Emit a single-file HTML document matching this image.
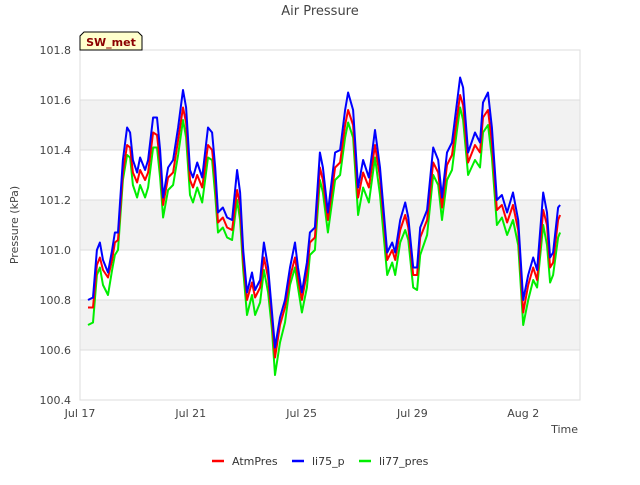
<!DOCTYPE html>
<html><head><meta charset="utf-8">
<style>
body{margin:0;background:#fff;font-family:"Liberation Sans","DejaVu Sans",sans-serif;}
svg text{font-family:"DejaVu Sans","Liberation Sans",sans-serif;}
</style></head>
<body>
<svg id="chart" width="640" height="480" xmlns="http://www.w3.org/2000/svg">
<rect width="640" height="480" fill="#fff"/>
<text x="320" y="15" text-anchor="middle" font-size="13" fill="#444">Air Pressure</text>
<g id="bands"></g>
<g id="grid"></g>
<rect x="80" y="50" width="500" height="350" fill="none" stroke="#ddd"/>
<g id="yticks"></g>
<g id="xticks"></g>
<text transform="translate(18,225) rotate(-90)" text-anchor="middle" font-size="11" fill="#444">Pressure (kPa)</text>
<text x="578" y="433" text-anchor="end" font-size="11" fill="#444">Time</text>
<g id="series"></g>
<g>
<path d="M80,50 L80,36 L84,32 L138,32 L142,36 L142,50 Z" fill="#ffffcc" stroke="#000" stroke-width="1"/>
<text x="111" y="46" text-anchor="middle" font-size="11" font-weight="bold" fill="#8b0000">SW_met</text>
</g>
<g>
<g><line x1="212" y1="461" x2="224" y2="461" stroke="#f00" stroke-width="2.5"/><text x="232" y="465" font-size="11" fill="#333">AtmPres</text></g>
<g><line x1="292" y1="461" x2="304" y2="461" stroke="#00f" stroke-width="2.5"/><text x="312" y="465" font-size="11" fill="#333">li75_p</text></g>
<g><line x1="359" y1="461" x2="371" y2="461" stroke="#0e0" stroke-width="2.5"/><text x="379" y="465" font-size="11" fill="#333">li77_pres</text></g>
</g>
</svg>
<script>
const days=[0.29,0.47,0.61,0.72,0.83,1.01,1.16,1.26,1.37,1.55,1.70,1.81,1.91,2.06,2.17,2.35,2.46,2.64,2.78,2.89,3.00,3.18,3.36,3.54,3.72,3.83,3.97,4.08,4.23,4.41,4.62,4.77,4.88,4.98,5.16,5.31,5.49,5.67,5.78,5.89,6.03,6.21,6.32,6.50,6.64,6.79,6.93,7.04,7.22,7.40,7.58,7.76,7.87,8.01,8.19,8.30,8.48,8.66,8.77,8.95,9.21,9.39,9.57,9.68,9.86,10.04,10.22,10.43,10.65,10.83,11.09,11.27,11.38,11.56,11.74,11.85,12.03,12.17,12.28,12.53,12.75,12.93,13.07,13.25,13.43,13.61,13.72,13.83,14.01,14.26,14.44,14.55,14.73,14.87,15.05,15.23,15.42,15.63,15.82,16.00,16.18,16.36,16.50,16.72,16.86,16.97,17.08,17.26,17.33];
const li75=[100.80,100.81,101.00,101.03,100.96,100.91,101.00,101.07,101.07,101.36,101.49,101.47,101.36,101.31,101.37,101.32,101.36,101.53,101.53,101.40,101.21,101.33,101.36,101.49,101.64,101.57,101.32,101.29,101.35,101.29,101.49,101.47,101.33,101.15,101.17,101.13,101.12,101.32,101.23,101.00,100.83,100.91,100.84,100.88,101.03,100.93,100.75,100.61,100.73,100.80,100.93,101.03,100.93,100.83,100.95,101.07,101.09,101.39,101.33,101.15,101.39,101.40,101.56,101.63,101.56,101.25,101.36,101.29,101.48,101.33,100.99,101.03,100.99,101.12,101.19,101.13,100.93,100.93,101.09,101.16,101.41,101.36,101.21,101.39,101.43,101.59,101.69,101.65,101.39,101.47,101.43,101.59,101.63,101.49,101.20,101.22,101.15,101.23,101.12,100.80,100.90,100.97,100.92,101.23,101.15,100.97,100.99,101.17,101.18];
const atm=[100.77,100.77,100.94,100.97,100.92,100.89,100.96,101.03,101.04,101.31,101.42,101.41,101.31,101.27,101.32,101.28,101.31,101.47,101.46,101.35,101.18,101.29,101.31,101.44,101.57,101.51,101.28,101.25,101.30,101.25,101.42,101.40,101.28,101.11,101.13,101.09,101.08,101.24,101.18,100.96,100.80,100.87,100.81,100.85,100.97,100.89,100.72,100.57,100.70,100.77,100.89,100.97,100.89,100.80,100.91,101.03,101.05,101.33,101.28,101.12,101.33,101.35,101.50,101.56,101.50,101.21,101.31,101.25,101.42,101.29,100.96,101.00,100.96,101.08,101.14,101.09,100.90,100.90,101.05,101.12,101.35,101.31,101.17,101.34,101.38,101.53,101.62,101.58,101.35,101.42,101.39,101.53,101.56,101.43,101.16,101.18,101.11,101.18,101.08,100.75,100.86,100.93,100.88,101.16,101.10,100.93,100.95,101.12,101.14];
const li77=[100.70,100.71,100.90,100.93,100.86,100.82,100.92,100.98,101.00,101.28,101.38,101.37,101.26,101.21,101.26,101.21,101.25,101.41,101.41,101.29,101.13,101.24,101.26,101.38,101.52,101.45,101.22,101.19,101.25,101.19,101.37,101.36,101.22,101.07,101.09,101.05,101.04,101.20,101.12,100.92,100.74,100.82,100.74,100.79,100.92,100.83,100.68,100.50,100.63,100.71,100.86,100.93,100.85,100.75,100.85,100.98,101.00,101.28,101.23,101.07,101.28,101.30,101.45,101.51,101.45,101.14,101.25,101.19,101.37,101.22,100.90,100.95,100.90,101.03,101.08,101.04,100.85,100.84,100.98,101.06,101.30,101.26,101.12,101.28,101.32,101.48,101.57,101.52,101.30,101.36,101.33,101.47,101.50,101.37,101.10,101.13,101.06,101.12,101.02,100.70,100.80,100.88,100.85,101.10,101.02,100.87,100.90,101.05,101.07];
const yTicks=[100.4,100.6,100.8,101.0,101.2,101.4,101.6,101.8];
const xTickDays=[0,4,8,12,16];
const xTickLabels=["Jul 17","Jul 21","Jul 25","Jul 29","Aug 2"];

const NS="http://www.w3.org/2000/svg";
const X0=80,X1=580,Y0=400,Y1=50,DMIN=0,DMAX=18.05,VMIN=100.4,VMAX=101.8;
function xs(d){return X0+(d-DMIN)/(DMAX-DMIN)*(X1-X0);}
function ys(v){return Y0-(v-VMIN)/(VMAX-VMIN)*(Y0-Y1);}
function mk(tag,attrs,parent){const e=document.createElementNS(NS,tag);for(const k in attrs)e.setAttribute(k,attrs[k]);parent.appendChild(e);return e;}

const bands=document.getElementById('bands'),grid=document.getElementById('grid'),yt=document.getElementById('yticks'),xt=document.getElementById('xticks'),ser=document.getElementById('series');
for(let i=0;i<yTicks.length-1;i++){
  if(i%2===1){
    const b=mk('rect',{x:X0,y:ys(yTicks[i+1]),width:X1-X0,height:ys(yTicks[i])-ys(yTicks[i+1]),fill:'#f2f2f2'},bands);
    
    
  }
}
yTicks.forEach(v=>{
  const l=mk('line',{x1:X0,x2:X1,y1:ys(v),y2:ys(v),stroke:'#ddd'},grid);
  
  
  const t=mk('text',{x:71,y:ys(v)+4,'text-anchor':'end','font-size':'11',fill:'#444'},yt);
  t.textContent=v.toFixed(1);
  
  
});
xTickDays.forEach((d,i)=>{
  const t=mk('text',{x:xs(d),y:417,'text-anchor':'middle','font-size':'11',fill:'#444'},xt);
  t.textContent=xTickLabels[i];
  
  
});
function drawLine(vals,color,name){
  const n=Math.min(days.length,vals.length);
  let d='';
  for(let i=0;i<n;i++)d+=(i?'L':'M')+xs(days[i]).toFixed(1)+','+ys(vals[i]).toFixed(1);
  const p=mk('path',{d:d,fill:'none',stroke:color,'stroke-width':'2','stroke-linejoin':'round'},ser);
  
  
}
drawLine(li77,'#00ee00','line-li77-pres');
drawLine(atm,'#ff0000','line-atmpres');
drawLine(li75,'#0000ff','line-li75-p');
</script>
</body></html>
